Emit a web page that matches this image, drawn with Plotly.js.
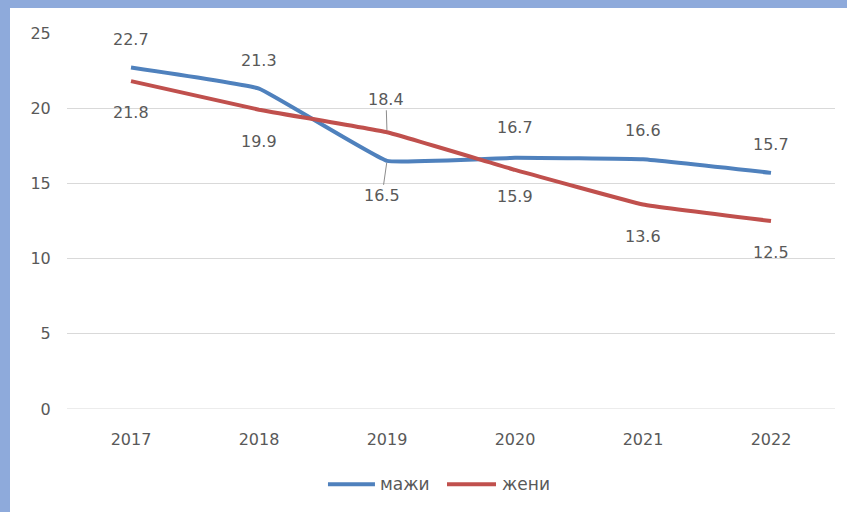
<!DOCTYPE html>
<html>
<head>
<meta charset="utf-8">
<script src="https://cdn.plot.ly/plotly-3.0.1.min.js"></script>
<style>
html, body { margin:0; padding:0; width:847px; height:512px; background:#8eaadb; overflow:hidden; }
#chart { position:absolute; left:10px; top:8px; width:837px; height:504px; background:#fff; }
</style>
</head>
<body>
<div id="chart"></div>
<script>
const years = ['2017', '2018', '2019', '2020', '2021', '2022'];
const menName = 'мажи';
const womenName = 'жени';
const men = [22.7, 21.3, 16.5, 16.7, 16.6, 15.7];
const women = [21.8, 19.9, 18.4, 15.9, 13.6, 12.5];
const yTicks = [0, 5, 10, 15, 20, 25];

const menColor = '#4F81BD';
const womenColor = '#C0504D';

// label placement offsets (pixels): positive = below point
const menOffsets = [-28, -28, 0, -30, -29, -28];
const womenOffsets = [31, 32, 0, 27, 32, 31];

const labelFont = { family: 'DejaVu Sans, sans-serif', size: 16, color: '#595959' };

const traces = [
  { x: years, y: men, name: menName, type: 'scatter', mode: 'lines',
    line: { color: menColor, width: 4, shape: 'spline', smoothing: 0.25 } },
  { x: years, y: women, name: womenName, type: 'scatter', mode: 'lines',
    line: { color: womenColor, width: 4, shape: 'spline', smoothing: 0.25 } }
];

const annotations = [];
function addLabels(vals, offs, leader) {
  vals.forEach(function (v, i) {
    const a = { x: i, y: v, xref: 'x', yref: 'y', text: v.toFixed(1),
      font: Object.assign({}, labelFont) };
    if (leader[i]) {
      a.showarrow = true; a.arrowhead = 0; a.arrowwidth = 1; a.arrowcolor = '#8c8c8c';
      a.ax = leader[i][0]; a.ay = leader[i][1]; a.standoff = 2;
    } else {
      a.showarrow = false; a.yshift = -offs[i];
    }
    annotations.push(a);
  });
}
addLabels(men, menOffsets, [null, null, [-5, 35], null, null, null]);
addLabels(women, womenOffsets, [null, null, [-1, -33], null, null, null]);

// custom legend (Excel-style long line samples)
const legY = -0.2;
const legendItems = [
  { name: menName, color: menColor, x0: 0.3398, x1: 0.401, tx: 0.405 },
  { name: womenName, color: womenColor, x0: 0.4948, x1: 0.5586, tx: 0.5638 }
];
const shapes = [{ type: 'line', xref: 'paper', yref: 'y', x0: 0, x1: 1, y0: 0, y1: 0,
  line: { color: '#d9d9d9', width: 1 } }];
legendItems.forEach(function (it) {
  shapes.push({ type: 'line', xref: 'paper', yref: 'paper', x0: it.x0, x1: it.x1,
    y0: legY, y1: legY, line: { color: it.color, width: 4 } });
  annotations.push({ xref: 'paper', yref: 'paper', x: it.tx, y: legY, xanchor: 'left',
    yanchor: 'middle', text: it.name, showarrow: false,
    font: { family: 'DejaVu Sans, sans-serif', size: 17, color: '#595959' } });
});

const tf = { family: 'DejaVu Sans, sans-serif', size: 16, color: '#595959' };

const layout = {
  width: 837, height: 504,
  paper_bgcolor: '#ffffff', plot_bgcolor: '#ffffff',
  margin: { l: 57, r: 12, t: 25, b: 103 },
  font: tf,
  xaxis: { type: 'category', range: [-0.5, 5.5], showgrid: false, zeroline: false,
    showline: false, ticks: 'outside', ticklen: 16, tickcolor: 'rgba(0,0,0,0)', tickfont: tf },
  yaxis: { range: [0, 25], tickvals: yTicks, showgrid: true, gridcolor: '#d9d9d9',
    gridwidth: 1, zeroline: false, showline: false, ticks: 'outside', ticklen: 12,
    tickcolor: 'rgba(0,0,0,0)', tickfont: tf },
  shapes: shapes,
  showlegend: false,
  annotations: annotations
};

Plotly.newPlot('chart', traces, layout, { displayModeBar: false });
</script>
</body>
</html>
